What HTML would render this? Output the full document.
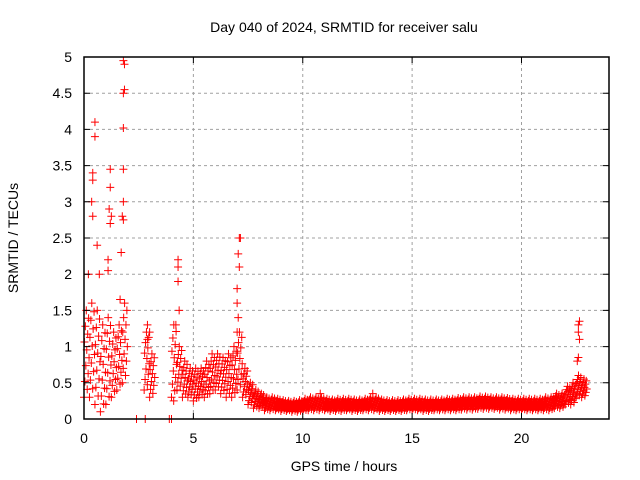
<!DOCTYPE html>
<html><head><meta charset="utf-8"><style>
body{margin:0;background:#fff}
svg{display:block;font-family:"Liberation Sans",sans-serif}
</style></head><body>
<svg id="chart" width="640" height="480" viewBox="0 0 640 480">
<text x="344" y="32" font-size="14" text-anchor="middle">Day 040 of 2024, SRMTID for receiver salu</text>
<text x="344" y="471" font-size="14" text-anchor="middle">GPS time / hours</text>
<text x="18" y="238" font-size="14" text-anchor="middle" transform="rotate(-90 18 238)">SRMTID / TECUs</text>
<g id="grid"></g>
<g id="marks"></g>
<rect x="84" y="57" width="525" height="362" fill="none" stroke="#000" stroke-width="1.5"/>
<g id="ticks"></g>
</svg>
<script>
const xTicks=[0,5,10,15,20];
const yTicks=[0,0.5,1,1.5,2,2.5,3,3.5,4,4.5,5];
const yTickLabels=["0","0.5","1","1.5","2","2.5","3","3.5","4","4.5","5"];
const binStart=[0,0.25,0.5,0.75,1,1.25,1.5,1.75,2.75,3,4,4.25,4.5,4.75,5,5.25,5.5,5.75,6,6.25,6.5,6.75,7,7.25,7.5,7.75,8,8.25,8.5,8.75,9,9.25,9.5,9.75,10,10.25,10.5,10.75,11,11.25,11.5,11.75,12,12.25,12.5,12.75,13,13.25,13.5,13.75,14,14.25,14.5,14.75,15,15.25,15.5,15.75,16,16.25,16.5,16.75,17,17.25,17.5,17.75,18,18.25,18.5,18.75,19,19.25,19.5,19.75,20,20.25,20.5,20.75,21,21.25,21.5,21.75,22,22.25,22.5,22.75];
const binLo=[0.3,0.3,0.2,0.1,0.2,0.3,0.4,0.5,0.4,0.3,0.3,0.4,0.3,0.3,0.25,0.3,0.3,0.35,0.4,0.35,0.3,0.3,0.4,0.3,0.2,0.15,0.15,0.12,0.12,0.12,0.11,0.11,0.1,0.1,0.11,0.12,0.12,0.12,0.12,0.11,0.11,0.11,0.12,0.11,0.11,0.12,0.12,0.12,0.11,0.11,0.11,0.11,0.11,0.12,0.12,0.12,0.11,0.11,0.12,0.12,0.12,0.12,0.12,0.13,0.13,0.13,0.14,0.14,0.14,0.14,0.13,0.13,0.12,0.12,0.12,0.12,0.12,0.12,0.12,0.12,0.15,0.15,0.2,0.2,0.3,0.3];
const binHi=[1.5,1.6,1.5,1.3,1.4,1.2,1.3,1.6,1.2,0.9,1.3,1.0,0.8,0.7,0.7,0.7,0.8,0.9,0.9,0.85,0.9,1.0,1.2,0.7,0.5,0.4,0.35,0.3,0.3,0.28,0.26,0.25,0.25,0.26,0.28,0.3,0.3,0.3,0.28,0.27,0.28,0.28,0.28,0.27,0.27,0.28,0.3,0.3,0.27,0.26,0.26,0.26,0.27,0.28,0.28,0.28,0.27,0.27,0.27,0.27,0.28,0.28,0.29,0.3,0.3,0.3,0.31,0.31,0.3,0.3,0.3,0.29,0.28,0.28,0.28,0.28,0.28,0.28,0.3,0.3,0.35,0.35,0.45,0.5,0.6,0.55];
const outT=[0.5,0.5,0.4,0.4,0.4,0.35,1.2,1.2,1.15,1.2,1.25,1.1,1.1,1.8,1.85,1.85,1.8,1.8,1.8,1.8,1.75,1.8,1.7,1.65,0.2,0.6,0.7,4.3,4.3,4.3,4.35,4.2,7.1,7.15,7.05,7.1,7.0,7.0,7.05,7.0,22.65,22.6,22.6,22.65,22.6,22.55,2.4,2.8,3.9,4.0,2.9,2.9,3.0,13.2,10.8,4.1];
const outV=[4.1,3.9,3.4,3.3,2.8,3.0,3.45,3.2,2.9,2.7,2.8,2.2,2.05,4.95,4.9,4.55,4.5,4.02,3.45,3.0,2.8,2.75,2.3,1.65,2.0,2.4,2.0,2.2,2.1,1.9,1.5,1.3,2.5,2.5,2.28,2.1,1.8,1.6,1.4,1.2,1.35,1.3,1.2,1.1,0.85,0.8,0,0,0,0,1.3,1.1,1.2,0.35,0.35,0.25];
const X0=84,X1=609,Y0=419,Y1=57,XMAX=24,YMAX=5;
const sx=t=>X0+(X1-X0)*t/XMAX;
const sy=v=>Y0-(Y0-Y1)*v/YMAX;
const NS="http://www.w3.org/2000/svg";
const grid=document.getElementById('grid'),ticks=document.getElementById('ticks'),marks=document.getElementById('marks');
function mk(tag,attrs,parent){const e=document.createElementNS(NS,tag);for(const k in attrs)e.setAttribute(k,attrs[k]);parent.appendChild(e);return e;}
xTicks.forEach(t=>{
 const x=sx(t);
 if(t>0){const g=mk('line',{x1:x,x2:x,y1:Y0,y2:Y1,stroke:'#a0a0a0','stroke-dasharray':'3,3'},grid);
 
 }
 const tk=mk('path',{d:`M${x} ${Y0}v-6M${x} ${Y1}v6`,stroke:'#000'},ticks);
 
 
 const l=mk('text',{x:x,y:443,'font-size':14,'text-anchor':'middle'},ticks);l.textContent=t;
 
 
});
yTicks.forEach((v,i)=>{
 const y=sy(v);
 if(v>0&&v<YMAX){const g=mk('line',{x1:X0,x2:X1,y1:y,y2:y,stroke:'#a0a0a0','stroke-dasharray':'3,3'},grid);
 
 }
 const tk=mk('path',{d:`M${X0} ${y}h6M${X1} ${y}h-6`,stroke:'#000'},ticks);
 
 
 const l=mk('text',{x:72,y:y+5,'font-size':14,'text-anchor':'end'},ticks);l.textContent=yTickLabels[i];
 
 
});
let d='';
function cross(t,v){const x=sx(t),y=sy(v);d+=`M${x-4} ${y}h8M${x} ${y-4}v8`;}
binStart.forEach((t,i)=>{
 for(let k=0;k<12;k++){cross(t+k*0.021,binLo[i]+(binHi[i]-binLo[i])*((k*7)%12)/11);}
});
outT.forEach((t,i)=>cross(t,outV[i]));
const p=mk('path',{d:d,stroke:'#ff0000','stroke-width':1,fill:'none'},marks);


</script>
</body></html>
